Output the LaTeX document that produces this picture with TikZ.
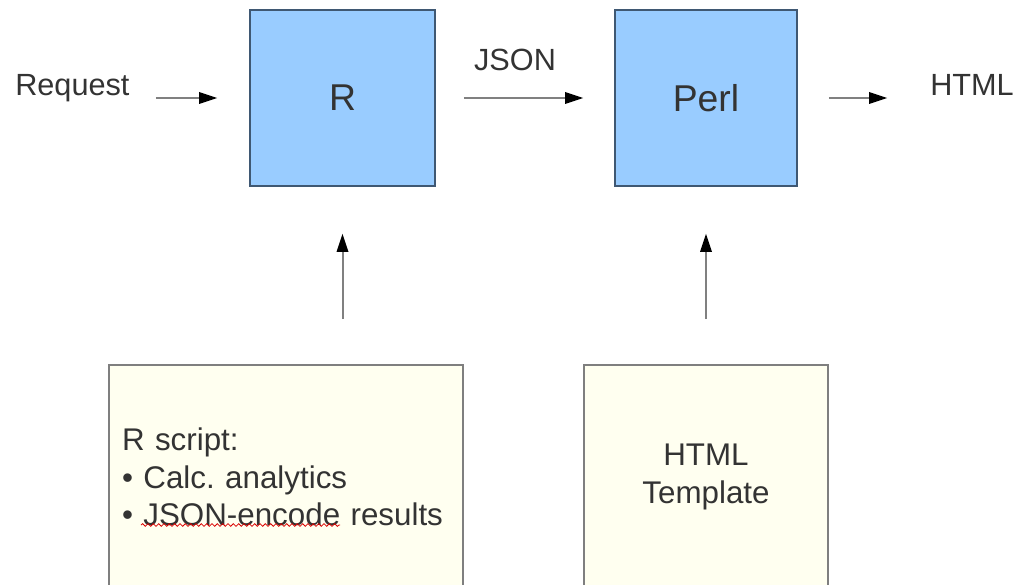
\documentclass[tikz,border=0pt]{standalone}
\usepackage{fontspec}
\setmainfont{Liberation Sans}
\usepackage{xcolor}
\usepackage{tikz}
\usetikzlibrary{arrows.meta}
\usetikzlibrary{decorations.pathmorphing}
\definecolor{procblue}{HTML}{99CCFF}
\definecolor{procline}{HTML}{3F5873}
\definecolor{notefill}{HTML}{FFFFF0}
\definecolor{noteline}{HTML}{7F7F7F}
\definecolor{txtgray}{HTML}{333333}
\definecolor{flowgray}{HTML}{808080}
\tikzstyle{proc} = [draw=procline, line width=1.2pt, fill=procblue, text=txtgray,
	minimum height=132pt, font=\fontsize{28}{32}\selectfont]
\tikzstyle{note} = [draw=noteline, line width=1.2pt, fill=notefill, text=txtgray,
	minimum height=168pt, font=\fontsize{23.5}{28}\selectfont]
\tikzstyle{lbl} = [text=txtgray, inner sep=0pt, font=\fontsize{23}{27}\selectfont]
\tikzstyle{flow} = [draw=flowgray, line width=1.5pt,
	-{Triangle[length=13.5pt,width=9pt,color=black,line width=0pt]}]

\begin{document}
\begin{tikzpicture}[x=0.75pt,y=-0.75pt]
	\clip (0,0) rectangle (1018,585);

	% processing steps
	\node[proc, minimum width=138.75pt] (r) at (342.5,98) {R};
	\node[proc, minimum width=136.5pt] (perl) at (706,98) {Perl};

	% input, data and output
	\node[lbl, anchor=base west] (req) at (15,96) {Request};
	\node[lbl, anchor=base] (json) at (515,71) {JSON};
	\node[lbl, anchor=base west] (html) at (930,96) {HTML};

	% sources
	\node[note, minimum width=265.5pt, text width=246pt, align=left] (script) at (286,477)
		{R script:\\ • Calc.\ analytics\\ • JSON-encode results};
	\node[note, minimum width=183pt, align=center] (tmpl) at (706,477) {HTML\\ Template};
	\draw[red!85!black, line width=0.6pt, decorate,
		decoration={snake,amplitude=1pt,segment length=4pt}] (141,525) -- (340,525);   % spell check

	\draw[flow, shorten <=19.5pt, shorten >=24pt] (req.east |- r.west) -- (r.west);
	\draw[flow, shorten <=21pt, shorten >=23.25pt] (r.east) -- (perl.west);
	\draw[flow, shorten <=23.25pt, shorten >=32.25pt] (perl.east) -- (perl.east -| html.west);
	\draw[flow, shorten <=33.75pt, shorten >=35.25pt] (r.south |- script.north) -- (r.south);
	\draw[flow, shorten <=33.75pt, shorten >=35.25pt] (tmpl.north) -- (perl.south);
\end{tikzpicture}
\end{document}
